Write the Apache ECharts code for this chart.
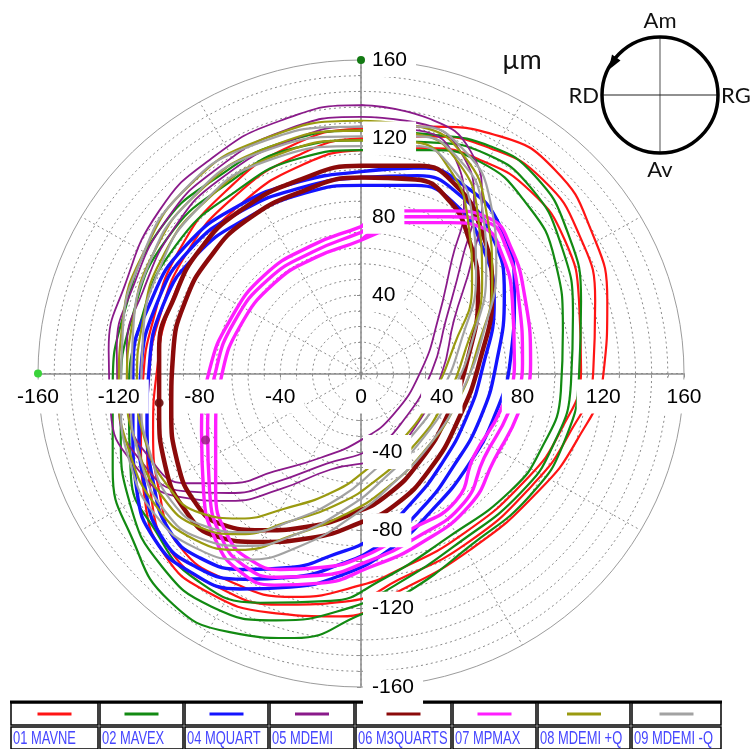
<!DOCTYPE html>
<html><head><meta charset="utf-8">
<script src="https://cdn.jsdelivr.net/npm/echarts@6/dist/echarts.min.js"></script>
<style>html,body{margin:0;padding:0;background:#fff}#c{width:752px;height:749px}</style>
</head><body><div id="c"></div>
<script>
// ---- axis / grid values ----
const axisMin = -160, axisMax = 160, axisStep = 40;
const xTickLabels = [-160,-120,-80,-40,0,40,80,120,160];
const yTickLabels = [160,120,80,40,-40,-80,-120,-160];
const ringRadii = [8,16,24,32,40,48,56,64,72,80,88,96,104,112,120,128,136,144,152,160];
const spokeAngles = [0,30,60,90,120,150,180,210,240,270,300,330];

// ---- legend ----
const seriesNames = ['01 MAVNE','02 MAVEX','04 MQUART','05 MDEMI','06 M3QUARTS','07 MPMAX','08 MDEMI +Q','09 MDEMI -Q'];
const seriesColors = ['#ff1414','#128a12','#1414ff','#8a1a8a','#8b0a0a','#ff1eff','#9a9a10','#a2a2a2'];

// ---- orbit data (µm) ----
const mavneOuter = [[0,125],[34,126],[69,121],[96,104],[114,73],[122,37],[120,-1],[107,-34],[86,-62],[54,-90],[19,-111],[-10,-124],[-45,-122],[-77,-111],[-97,-93],[-107,-65],[-109,-34],[-108,-4],[-103,27],[-90,63],[-67,93],[-35,116],[0,125]];
const mavneMid = [[0,120],[34,121],[64,115],[90,99],[108,71],[116,37],[115,0],[103,-31],[84,-58],[52,-87],[19,-105],[-5,-116],[-40,-118],[-71,-109],[-94,-91],[-104,-62],[-106,-31],[-105,-1],[-100,28],[-86,62],[-63,90],[-32,111],[0,120]];
const mavneInner = [[0,114],[34,115],[59,109],[84,93],[101,68],[108,37],[109,2],[99,-29],[81,-55],[49,-83],[19,-100],[0,-108],[-33,-114],[-65,-106],[-90,-88],[-100,-60],[-103,-29],[-101,2],[-96,30],[-82,60],[-60,86],[-30,106],[0,114]];
const mavexOuter = [[0,124],[34,122],[64,116],[86,101],[102,73],[109,37],[108,-1],[101,-34],[84,-62],[54,-88],[24,-111],[0,-123],[-33,-135],[-65,-132],[-95,-116],[-113,-85],[-123,-49],[-123,-9],[-117,32],[-100,73],[-70,101],[-35,119],[0,124]];
const mavexMid = [[0,119],[34,118],[62,112],[84,95],[99,66],[105,30],[104,-5],[95,-37],[79,-61],[49,-86],[17,-108],[-7,-120],[-42,-126],[-74,-119],[-99,-98],[-114,-68],[-119,-31],[-119,-11],[-113,30],[-96,69],[-66,97],[-33,115],[0,119]];
const mavexInner = [[0,114],[34,114],[59,108],[81,88],[96,58],[100,22],[99,-9],[89,-39],[74,-60],[44,-83],[9,-106],[-15,-116],[-50,-117],[-82,-105],[-102,-80],[-114,-52],[-115,-14],[-109,27],[-92,65],[-62,93],[-30,110],[0,114]];
const mquartOuter = [[0,103],[29,105],[51,96],[69,75],[76,42],[74,7],[66,-22],[53,-47],[35,-70],[14,-90],[-10,-103],[-35,-109],[-60,-110],[-85,-101],[-102,-85],[-111,-60],[-113,-29],[-113,2],[-104,37],[-87,65],[-60,86],[-30,98],[0,103]];
const mquartMid = [[0,100],[28,101],[49,91],[65,70],[71,40],[67,5],[59,-23],[46,-47],[30,-69],[10,-87],[-12,-98],[-35,-104],[-58,-105],[-83,-98],[-99,-83],[-107,-58],[-110,-27],[-109,2],[-101,36],[-85,63],[-59,83],[-29,95],[0,100]];
const mquartInner = [[0,96],[27,96],[47,86],[60,65],[66,37],[60,2],[52,-23],[40,-46],[25,-66],[7,-83],[-15,-93],[-35,-99],[-57,-100],[-80,-94],[-95,-80],[-103,-55],[-106,-24],[-105,2],[-98,35],[-82,60],[-57,79],[-28,92],[0,96]];
const mdemiOuter = [[0,137],[34,130],[54,114],[60,88],[55,58],[46,27],[40,0],[27,-27],[12,-42],[-15,-49],[-40,-59],[-65,-65],[-90,-63],[-112,-47],[-124,-19],[-125,12],[-117,45],[-100,83],[-75,109],[-40,129],[0,137]];
const mdemiMid = [[0,131],[32,127],[50,112],[56,87],[50,58],[42,27],[35,1],[21,-24],[6,-38],[-17,-46],[-41,-55],[-65,-61],[-88,-60],[-108,-46],[-120,-19],[-121,12],[-113,44],[-96,79],[-72,104],[-38,124],[0,131]];
const mdemiInner = [[0,126],[29,124],[47,109],[51,86],[45,58],[38,27],[30,2],[16,-21],[0,-34],[-20,-43],[-43,-50],[-65,-56],[-87,-56],[-104,-44],[-115,-19],[-116,12],[-108,42],[-92,75],[-70,99],[-35,119],[0,126]];
const m3quartsOuter = [[0,106],[29,106],[47,96],[59,75],[65,42],[59,7],[48,-24],[34,-49],[17,-67],[0,-76],[-25,-84],[-50,-86],[-72,-83],[-87,-70],[-97,-47],[-100,-19],[-100,12],[-92,40],[-80,63],[-60,83],[-30,99],[0,106]];
const m3quartsInner = [[0,100],[27,99],[43,89],[53,70],[58,41],[53,8],[43,-21],[29,-45],[13,-62],[-3,-71],[-25,-78],[-49,-80],[-69,-77],[-82,-66],[-91,-45],[-94,-19],[-93,11],[-87,37],[-75,59],[-57,78],[-29,93],[0,100]];
const mpmaxOuter = [[0,75],[19,83],[44,83],[64,79],[74,65],[81,40],[84,5],[78,-20],[66,-44],[54,-67],[29,-87],[4,-99],[-20,-107],[-43,-108],[-60,-101],[-72,-85],[-78,-60],[-79,-29],[-75,2],[-65,27],[-48,50],[-25,65],[0,75]];
const mpmaxMid = [[0,72],[19,80],[44,80],[63,77],[72,64],[78,39],[80,5],[73,-20],[61,-43],[51,-66],[27,-84],[3,-96],[-20,-103],[-42,-104],[-58,-98],[-69,-84],[-75,-60],[-76,-29],[-72,1],[-63,26],[-46,48],[-24,62],[0,72]];
const mpmaxInner = [[0,68],[19,77],[44,77],[61,74],[69,63],[75,37],[76,5],[69,-19],[56,-42],[47,-65],[24,-80],[2,-93],[-20,-99],[-40,-100],[-55,-95],[-66,-83],[-72,-60],[-72,-29],[-69,-1],[-60,24],[-43,46],[-23,59],[0,68]];
const mdemiPlusQOuter = [[0,129],[29,126],[51,111],[62,83],[65,47],[58,14],[47,-16],[31,-40],[12,-59],[-8,-72],[-35,-83],[-60,-90],[-82,-85],[-102,-67],[-115,-39],[-120,-9],[-118,27],[-107,63],[-85,96],[-50,119],[0,129]];
const mdemiPlusQMid = [[0,124],[28,122],[48,108],[58,80],[60,46],[52,13],[41,-15],[26,-37],[8,-54],[-10,-66],[-37,-76],[-60,-82],[-81,-78],[-99,-62],[-111,-37],[-116,-8],[-113,27],[-103,61],[-81,92],[-47,115],[0,124]];
const mdemiPlusQInner = [[0,119],[27,118],[44,104],[53,78],[55,45],[46,14],[35,-12],[21,-33],[4,-48],[-13,-60],[-38,-69],[-60,-74],[-80,-71],[-96,-57],[-107,-34],[-111,-6],[-108,27],[-99,58],[-77,88],[-43,111],[0,119]];
const mdemiMinusQOuter = [[0,126],[29,126],[51,114],[64,88],[67,55],[61,22],[50,-9],[35,-35],[16,-56],[-3,-72],[-30,-88],[-57,-95],[-82,-89],[-102,-72],[-114,-47],[-119,-14],[-118,22],[-109,58],[-90,91],[-55,116],[0,126]];
const mdemiMinusQMid = [[0,121],[28,121],[48,110],[60,85],[62,52],[56,20],[45,-10],[30,-34],[12,-53],[-6,-68],[-32,-82],[-57,-88],[-80,-84],[-98,-69],[-109,-45],[-114,-14],[-113,20],[-105,56],[-86,87],[-52,112],[0,121]];
const mdemiMinusQInner = [[0,116],[27,116],[45,105],[55,81],[57,50],[50,18],[39,-11],[25,-32],[7,-49],[-10,-63],[-34,-75],[-57,-81],[-77,-78],[-94,-65],[-104,-42],[-109,-14],[-108,19],[-100,53],[-82,83],[-48,108],[0,116]];

const orbitLoops = [
  [mavneOuter, mavneMid, mavneInner],
  [mavexOuter, mavexMid, mavexInner],
  [mquartOuter, mquartMid, mquartInner],
  [mdemiOuter, mdemiMid, mdemiInner],
  [m3quartsOuter, m3quartsInner],
  [mpmaxOuter, mpmaxMid, mpmaxInner],
  [mdemiPlusQOuter, mdemiPlusQMid, mdemiPlusQInner],
  [mdemiMinusQOuter, mdemiMinusQMid, mdemiMinusQInner]
];
const orbitWidths = [2.2,2.2,3.4,1.8,4.5,3.4,2.2,2.2];

// reference markers on the scale
const axisEndMarks = [[0,160],[-160,0]];
const axisEndColors = ['#137a13','#3ad33a'];
const phaseMarks = [[-100,-15],[-77,-34]];
const phaseColors = ['#6a0a0a','#a0208a'];

const chart = echarts.init(document.getElementById('c'), null, {renderer:'canvas'});

const tickLabelStyle = {show:true, backgroundColor:'#fff', padding:[7,9,6,9], fontSize:21, color:'#000', fontFamily:'Liberation Sans, Arial, sans-serif'};

const series = [];
// rings
series.push({
  type:'custom', coordinateSystem:'cartesian2d', silent:true, z:1, clip:false,
  data: ringRadii.map(r=>[0,0,r]), encode:{x:0,y:1},
  renderItem:(p, api)=>{
    const r = api.value(2); const pts=[];
    for(let a=0;a<=360;a+=3){const t=a*Math.PI/180; pts.push(api.coord([r*Math.cos(t), r*Math.sin(t)]));}
    const outer = r===axisMax;
    return {type:'polyline', shape:{points:pts}, style:{fill:'none', stroke: outer?'#9c9c9c':'#8a8a8a', lineWidth:1, lineDash: outer?null:[2,3]}};
  }
});
// spokes
series.push({
  type:'custom', coordinateSystem:'cartesian2d', silent:true, z:1, clip:false,
  data: spokeAngles.map(a=>[0,0,a]), encode:{x:0,y:1},
  renderItem:(p, api)=>{
    const t = api.value(2)*Math.PI/180;
    const c = api.coord([0,0]), e = api.coord([axisMax*Math.cos(t), axisMax*Math.sin(t)]);
    return {type:'line', shape:{x1:c[0],y1:c[1],x2:e[0],y2:e[1]}, style:{stroke:'#8a8a8a', lineWidth:1, lineDash:[2,3]}};
  }
});
orbitLoops.forEach((loops, i)=>{
  loops.forEach(loop=>{
    series.push({type:'line', name:seriesNames[i], data:loop.concat([loop[1]]), smooth:0.5, showSymbol:false, silent:true, z:3,
      lineStyle:{color:seriesColors[i], width:orbitWidths[i]}});
  });
});
series.push({type:'scatter', data:phaseMarks.map((d,i)=>({value:d, itemStyle:{color:phaseColors[i], opacity:0.9}})), symbolSize:9, z:4, silent:true});
// tick labels placed on the zero lines
series.push({type:'scatter', silent:true, z:10, symbolSize:0, clip:false, itemStyle:{opacity:1},
  data: xTickLabels.map(v=>[v,0]),
  label:Object.assign({}, tickLabelStyle, {position:'bottom', distance:6, formatter:p=>String(p.value[0])})});
series.push({type:'scatter', silent:true, z:10, symbolSize:0, clip:false, itemStyle:{opacity:1},
  data: yTickLabels.map(v=>[0,v]),
  label:Object.assign({}, tickLabelStyle, {position:'right', distance:2, formatter:p=>String(p.value[1])})});
series.push({type:'scatter', data:axisEndMarks.map((d,i)=>({value:d, itemStyle:{color:axisEndColors[i], opacity:1}})), symbolSize:8, z:12, silent:true, clip:false});

// legend table
const cellX = [10,99,184,269,355,452,537,631,722];
const legendEls = [];
legendEls.push({type:'line', shape:{x1:cellX[0],y1:702,x2:cellX[8],y2:702}, style:{stroke:'#000', lineWidth:3}});
for(let i=0;i<8;i++){
  const x0=cellX[i], x1=cellX[i+1], cx=(x0+x1)/2;
  legendEls.push({type:'rect', shape:{x:x0+1,y:703,width:x1-x0-2,height:22}, style:{fill:'#fff', stroke:'#000', lineWidth:1.5}});
  legendEls.push({type:'rect', shape:{x:x0+1,y:727,width:x1-x0-2,height:22}, style:{fill:'#fff', stroke:'#000', lineWidth:1.5}});
  legendEls.push({type:'line', shape:{x1:cx-17,y1:714,x2:cx+17,y2:714}, style:{stroke:seriesColors[i], lineWidth:3}});
  legendEls.push({type:'text', x:x0+3, y:739, scaleX:0.68, style:{text:seriesNames[i], fill:'#4646ff', font:'19px "Liberation Sans", Arial, sans-serif', verticalAlign:'middle', textAlign:'left'}});
}

const insetFont = '22px Lato, "Open Sans", sans-serif';
const insetEls = [
  {type:'line', shape:{x1:660,y1:37,x2:660,y2:153}, style:{stroke:'#777', lineWidth:1.3}},
  {type:'line', shape:{x1:602,y1:95,x2:718,y2:95}, style:{stroke:'#222', lineWidth:1.1}},
  {type:'circle', shape:{cx:660,cy:95,r:58}, style:{fill:'none', stroke:'#000', lineWidth:3.5}},
  {type:'polygon', shape:{points:[[608.5,70],[620.5,60.5],[612,54.5]]}, style:{fill:'#000'}},
  {type:'text', x:660, y:21, style:{text:'Am', font:insetFont, fill:'#111', textAlign:'center', verticalAlign:'middle'}},
  {type:'text', x:599, y:96, style:{text:'RD', font:insetFont, fill:'#111', textAlign:'right', verticalAlign:'middle'}},
  {type:'text', x:721, y:96, style:{text:'RG', font:insetFont, fill:'#111', textAlign:'left', verticalAlign:'middle'}},
  {type:'text', x:660, y:170, style:{text:'Av', font:insetFont, fill:'#111', textAlign:'center', verticalAlign:'middle'}},
  {type:'text', x:502, y:60, style:{text:'µm', font:'27px Lato, "Open Sans", sans-serif', fill:'#111', textAlign:'left', verticalAlign:'middle'}}
];

const option = {
  animation:false,
  backgroundColor:'#fff',
  grid:{left:38, top:60, width:646, height:627, containLabel:false},
  xAxis:{type:'value', min:axisMin, max:axisMax, interval:axisStep,
     axisLine:{show:true, onZero:true, lineStyle:{color:'#8a8a8a', width:1.5}},
     axisTick:{show:true, length:4, lineStyle:{color:'#8a8a8a'}},
     minorTick:{show:true, splitNumber:5, length:3, lineStyle:{color:'#9a9a9a'}},
     axisLabel:{show:false}, splitLine:{show:false}},
  yAxis:{type:'value', min:axisMin, max:axisMax, interval:axisStep,
     axisLine:{show:true, onZero:true, lineStyle:{color:'#8a8a8a', width:1.5}},
     axisTick:{show:true, length:4, lineStyle:{color:'#8a8a8a'}},
     minorTick:{show:true, splitNumber:5, length:3, lineStyle:{color:'#9a9a9a'}},
     axisLabel:{show:false}, splitLine:{show:false}},
  graphic:{elements:[...insetEls, ...legendEls]},
  series: series
};
chart.setOption(option);
</script></body></html>
